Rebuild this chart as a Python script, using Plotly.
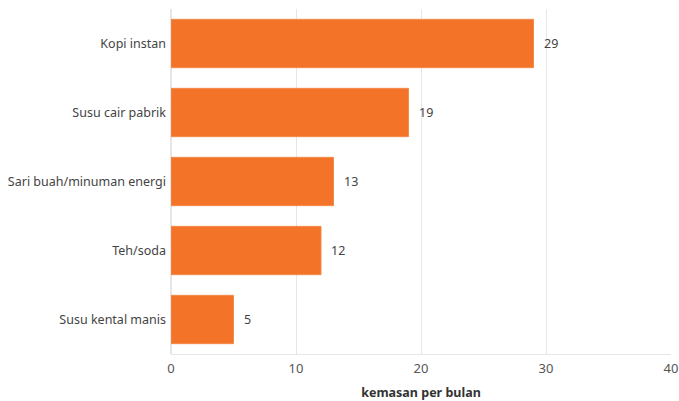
import plotly.graph_objects as go

categories = ["Kopi instan", "Susu cair pabrik", "Sari buah/minuman energi", "Teh/soda", "Susu kental manis"]
values = [29, 19, 13, 12, 5]
x_ticks = [0, 10, 20, 30, 40]
x_title = "kemasan per bulan"

BAR = "#F37329"
FONT = "Noto Sans, Open Sans, sans-serif"

fig = go.Figure(go.Bar(
    x=values, y=categories, orientation="h",
    marker=dict(color=BAR, line=dict(color="#F58A4A", width=1)),
    hoverinfo="skip",
))

for v, c in zip(values, categories):
    fig.add_annotation(x=v, y=c, text=str(v), showarrow=False, xanchor="left",
                       xshift=8, font=dict(family=FONT, size=12.5, color="#444"))

fig.update_layout(
    width=679, height=401,
    margin=dict(l=171, r=8, t=9, b=47),
    plot_bgcolor="white", paper_bgcolor="white",
    bargap=0.3, showlegend=False,
    font=dict(family=FONT, size=12.5, color="#444"),
    xaxis=dict(range=[0, 40], tickvals=x_ticks, showgrid=True, gridcolor="#e6e6e6",
               zeroline=True, zerolinecolor="#e6e6e6", showline=True, linecolor="#e6e6e6",
               ticks="", automargin=False, ticklabelstandoff=2,
               title=dict(text="<b>" + x_title + "</b>", font=dict(size=12.5, color="#333"), standoff=12),
               tickfont=dict(size=13, color="#555")),
    yaxis=dict(categoryorder="array", categoryarray=categories[::-1], showgrid=False,
               ticks="", automargin=False, ticklabelstandoff=4, tickfont=dict(size=12.5, color="#444")),
)

fig.write_html("out.html")
